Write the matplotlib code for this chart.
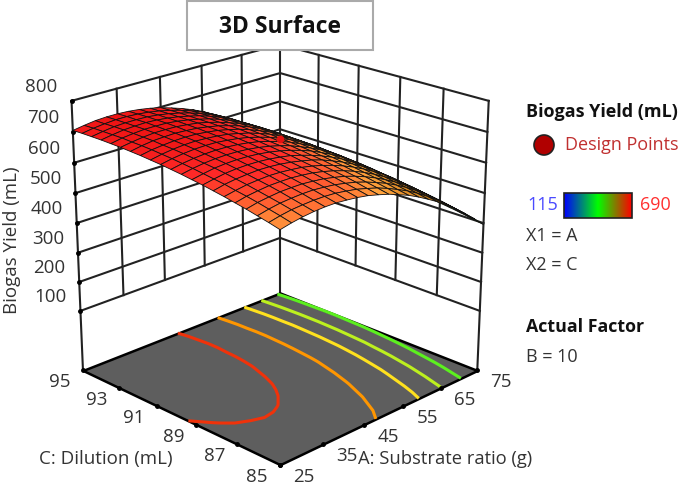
import numpy as np
import matplotlib
matplotlib.use('Agg')
import matplotlib.pyplot as plt
from matplotlib.colors import LinearSegmentedColormap, Normalize
from matplotlib.patches import Rectangle, Circle
from mpl_toolkits.mplot3d import proj3d
from mpl_toolkits.mplot3d.art3d import Poly3DCollection

plt.rcParams['font.family'] = ['Open Sans', 'DejaVu Sans']

# grid of the response surface
substrate = [25, 27.5, 30, 32.5, 35, 37.5, 40, 42.5, 45, 47.5, 50, 52.5, 55, 57.5, 60, 62.5, 65, 67.5, 70, 72.5, 75]
dilution = [85, 85.5, 86, 86.5, 87, 87.5, 88, 88.5, 89, 89.5, 90, 90.5, 91, 91.5, 92, 92.5, 93, 93.5, 94, 94.5, 95]
yield_ml = [
    [625, 633, 639, 643, 645, 645, 642, 638, 632, 623, 613, 600, 586, 569, 550, 530, 507, 482, 455, 426, 395],
    [634, 642, 648, 651, 653, 653, 651, 646, 640, 631, 621, 608, 593, 577, 558, 537, 514, 489, 462, 433, 402],
    [642, 650, 656, 659, 661, 661, 658, 654, 647, 639, 628, 615, 601, 584, 565, 544, 521, 496, 469, 440, 409],
    [650, 658, 663, 667, 668, 668, 665, 661, 654, 646, 635, 622, 607, 590, 571, 550, 527, 502, 475, 446, 415],
    [657, 665, 670, 674, 675, 675, 672, 668, 661, 652, 641, 628, 613, 596, 577, 556, 533, 508, 481, 451, 420],
    [664, 671, 677, 680, 682, 681, 678, 674, 667, 658, 647, 634, 619, 602, 583, 562, 539, 513, 486, 456, 425],
    [670, 678, 683, 686, 688, 687, 684, 679, 672, 664, 653, 639, 624, 607, 588, 567, 543, 518, 491, 461, 430],
    [676, 683, 689, 692, 693, 692, 689, 684, 678, 668, 657, 644, 629, 612, 592, 571, 548, 522, 495, 465, 434],
    [681, 688, 694, 697, 698, 697, 694, 689, 682, 673, 662, 649, 633, 616, 597, 575, 552, 526, 498, 469, 437],
    [686, 693, 698, 701, 702, 701, 698, 693, 686, 677, 666, 652, 637, 620, 600, 579, 555, 529, 502, 472, 440],
    [690, 697, 702, 705, 706, 705, 702, 697, 690, 680, 669, 656, 640, 623, 603, 581, 558, 532, 504, 474, 443],
    [694, 701, 706, 709, 710, 709, 705, 700, 693, 683, 672, 658, 643, 625, 606, 584, 560, 534, 506, 477, 445],
    [697, 704, 709, 712, 713, 711, 708, 703, 695, 686, 674, 661, 645, 627, 608, 586, 562, 536, 508, 478, 446],
    [700, 707, 711, 714, 715, 714, 710, 705, 697, 688, 676, 662, 647, 629, 609, 587, 563, 537, 509, 479, 447],
    [702, 709, 714, 716, 717, 715, 712, 706, 699, 689, 678, 664, 648, 630, 610, 588, 564, 538, 510, 480, 448],
    [704, 710, 715, 718, 718, 717, 713, 708, 700, 690, 678, 665, 649, 631, 611, 589, 565, 538, 510, 480, 448],
    [705, 712, 716, 719, 719, 718, 714, 708, 700, 691, 679, 665, 649, 631, 611, 589, 564, 538, 510, 479, 447],
    [706, 712, 717, 719, 720, 718, 714, 708, 700, 691, 679, 665, 649, 630, 610, 588, 564, 537, 509, 479, 446],
    [706, 712, 717, 719, 719, 718, 714, 708, 700, 690, 678, 664, 648, 630, 609, 587, 563, 536, 508, 477, 445],
    [706, 712, 716, 719, 719, 717, 713, 707, 699, 689, 677, 663, 646, 628, 608, 585, 561, 534, 506, 475, 443],
    [705, 711, 716, 718, 718, 716, 712, 706, 698, 687, 675, 661, 645, 626, 606, 583, 559, 532, 504, 473, 440],
]

a_ticks = [25, 35, 45, 55, 65, 75]
c_ticks = [85, 87, 89, 91, 93, 95]
z_ticks = [100, 200, 300, 400, 500, 600, 700, 800]
contour_levels = [450, 506, 557, 621, 685]
contour_colors = ['#5cf01e', '#bdf01e', '#ffe11e', '#ff9600', '#f0320a']
design_a, design_c, design_z = [50], [90], [676]

z_floor = -110

fig = plt.figure(figsize=(6.85, 4.9), dpi=100)
ax = fig.add_axes([0.0014, 0.0045, 0.796, 0.987], projection='3d')
ax.set_proj_type('persp', focal_length=0.72)
ax.view_init(elev=21.5, azim=-135)
ax.set_box_aspect((1, 1, 1.01), zoom=1.0)
ax.set_xlim(25, 75)
ax.set_ylim(85, 95)
ax.set_zlim(z_floor, 800)
ax.set_axis_off()
ax.computed_zorder = False

A, C = np.meshgrid(substrate, dilution)
Z = np.array(yield_ml, dtype=float)

# walls, drawn by hand because the grid stops at z=100
wall = dict(color='#222222', lw=1.5, zorder=1)
for z in z_ticks:
    ax.plot([25, 75], [95, 95], [z, z], **wall)
    ax.plot([75, 75], [95, 85], [z, z], **wall)
for a in a_ticks[1:-1]:
    ax.plot([a, a], [95, 95], [100, 800], **wall)
for c in c_ticks[1:-1]:
    ax.plot([75, 75], [c, c], [100, 800], **wall)
ax.plot([25, 25], [95, 95], [z_floor, 800], **wall)
ax.plot([75, 75], [95, 95], [z_floor, 800], **wall)
ax.plot([75, 75], [85, 85], [z_floor, 800], **wall)

# tick dots on the left edge and along the floor
ax.plot([25] * len(z_ticks), [95] * len(z_ticks), z_ticks, 'o', color='k', ms=2.5, zorder=1)

floor = Poly3DCollection([[(25, 85, z_floor), (75, 85, z_floor), (75, 95, z_floor), (25, 95, z_floor)]],
                         facecolor='#5e5e5e', edgecolor='k', linewidth=1.8, zorder=2)
ax.add_collection3d(floor)
ax.plot(a_ticks, [85] * 6, [z_floor] * 6, 'o', color='k', ms=2.5, zorder=4)
ax.plot([25] * 6, c_ticks, [z_floor] * 6, 'o', color='k', ms=2.5, zorder=4)

ax.contour(A, C, Z, levels=contour_levels, colors=contour_colors, linewidths=2.2,
           zdir='z', offset=z_floor, zorder=3)

surf_cmap = LinearSegmentedColormap.from_list('surf', [
    (0.0, '#0000ff'), (0.463, '#0a6400'), (0.554, '#3f7000'), (0.669, '#b06c08'),
    (0.84, '#ffa23c'), (0.895, '#ff6432'), (0.945, '#ff2a28'), (1.0, '#ee1414')])
ax.plot_surface(A, C, Z, rstride=1, cstride=1, cmap=surf_cmap, norm=Normalize(115, 720),
                edgecolor='#111111', linewidth=0.6, antialiased=True, shade=False, zorder=5)
ax.plot(design_a, design_c, design_z, 'o', color='#e81010', ms=4.5, zorder=6)

fig.canvas.draw()


def label3d(x, y, z, txt, dx, dy):
    px, py, _ = proj3d.proj_transform(x, y, z, ax.get_proj())
    ax.annotate(txt, (px, py), xytext=(dx, dy), textcoords='offset pixels', ha='center', va='center',
                fontsize=13.5, color='#333333', annotation_clip=False, zorder=10)


for z in z_ticks:
    label3d(25, 95, z, str(z), -30, 14)
for a in a_ticks:
    label3d(a, 85, z_floor, str(a), 24, -12)
for c in c_ticks:
    label3d(25, c, z_floor, str(c), -23, -12)

grey = '#333333'
fig.text(12 / 685, 1 - 240 / 490, 'Biogas Yield (mL)', rotation=90, ha='center', va='center', fontsize=13.5, color=grey)
fig.text(106 / 685, 1 - 459 / 490, 'C: Dilution (mL)', ha='center', va='center', fontsize=13.5, color=grey,
         bbox=dict(facecolor='white', edgecolor='none', pad=1), zorder=20)
fig.text(358 / 685, 1 - 459 / 490, 'A: Substrate ratio (g)', ha='left', va='center', fontsize=13.2, color=grey,
         bbox=dict(facecolor='white', edgecolor='none', pad=1), zorder=20)

# title box
fig.add_artist(Rectangle((187 / 685, 1 - 50 / 490), 186 / 685, 49 / 490, transform=fig.transFigure,
                         facecolor='white', edgecolor='#aaaaaa', lw=1.5, zorder=15))
fig.text(280 / 685, 1 - 27 / 490, '3D Surface', ha='center', va='center', fontsize=16.5, fontweight='bold',
         color='#111111', zorder=16)

# legend column
fig.text(526 / 685, 1 - 112 / 490, 'Biogas Yield (mL)', va='center', fontsize=13, fontweight='bold', color='#111111')
leg = fig.add_axes([0, 0, 1, 1], facecolor='none')
leg.set_xlim(0, 685)
leg.set_ylim(490, 0)
leg.axis('off')
leg.add_patch(Circle((544, 145), 10, facecolor='#b00000', edgecolor='#222222', lw=1.2))
fig.text(565 / 685, 1 - 145 / 490, 'Design Points', va='center', fontsize=13, color='#c03030')
fig.text(527 / 685, 1 - 205 / 490, '115', va='center', fontsize=13, color='#4a4aff')
fig.text(640 / 685, 1 - 205 / 490, '690', va='center', fontsize=13, color='#ff3030')
fig.text(526 / 685, 1 - 236 / 490, 'X1 = A', va='center', fontsize=13, color=grey)
fig.text(526 / 685, 1 - 265 / 490, 'X2 = C', va='center', fontsize=13, color=grey)
fig.text(526 / 685, 1 - 327 / 490, 'Actual Factor', va='center', fontsize=12.8, fontweight='bold', color='#111111')
fig.text(526 / 685, 1 - 357 / 490, 'B = 10', va='center', fontsize=13, color=grey)

bar_cmap = LinearSegmentedColormap.from_list('bar', ['#0000ff', '#00ff00', '#ff0000'])
leg.imshow(np.linspace(0, 1, 128)[None, :], cmap=bar_cmap, extent=(564, 632, 218, 193), aspect='auto')
leg.add_patch(Rectangle((564, 193), 68, 25, facecolor='none', edgecolor='#222222', lw=1.2))
leg.set_xlim(0, 685)
leg.set_ylim(490, 0)

fig.savefig('out.png', dpi=100)
